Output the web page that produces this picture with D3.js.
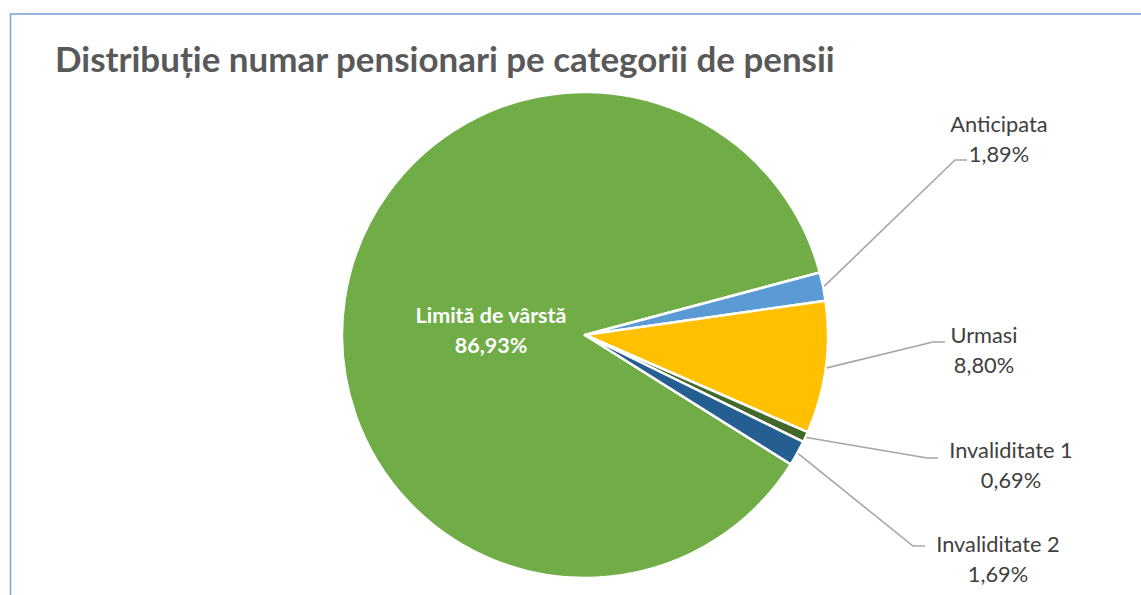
<!DOCTYPE html>
<html><head><meta charset="utf-8">
<script src="https://cdn.jsdelivr.net/npm/d3@7"></script>
<style>body{margin:0;background:#fff;}svg{display:block;}</style>
</head><body>
<svg id="c" width="1141" height="595"></svg>
<script>
const categories = ["Limită de vârstă", "Anticipata", "Urmasi", "Invaliditate 1", "Invaliditate 2"];
const values = [86.93, 1.89, 8.80, 0.69, 1.69];
const valueLabels = ["86,93%", "1,89%", "8,80%", "0,69%", "1,69%"];
const colors = ["#70AD47", "#5B9BD5", "#FFC000", "#43682B", "#255E91"];
const title = "Distribuție numar pensionari pe categorii de pensii";

// layout (label anchor positions, manually placed like the original)
const labelPos = [
  {x: 491, y: 323, inside: true},
  {x: 999, y: 132, elbow: [955, 160], end: [967, 160]},
  {x: 984, y: 343, elbow: [933, 342], end: [945, 342]},
  {x: 1011, y: 458, elbow: [927, 458], end: [938, 458]},
  {x: 998, y: 552, elbow: [913, 546], end: [925, 546]}
];

const svg = d3.select("#c");
const W = 1141, H = 595;
svg.append("rect").attr("x", 10.5).attr("y", 14).attr("width", W + 10).attr("height", H + 10)
  .attr("fill", "#fff").attr("stroke", "#7F9FD8").attr("stroke-width", 1.5);

const FONT = "Lato, 'Open Sans', sans-serif";
const t = svg.append("text").attr("x", 55).attr("y", 72)
  .attr("font-family", FONT).attr("font-weight", "bold")
  .attr("font-size", 30).attr("fill", "#595959").text(title);
const tw = t.node().getComputedTextLength();
t.attr("font-size", 30 * 780 / tw);

const cx = 585, cy = 335, R = 243;
const deg = Math.PI / 180;
const pie = d3.pie().sort(null).value(d => d)
  .startAngle(122.15 * deg).endAngle(482.15 * deg);
const arcs = pie(values);
const arc = d3.arc().innerRadius(0).outerRadius(R);

const g = svg.append("g").attr("transform", `translate(${cx},${cy})`);
g.selectAll("path").data(arcs).join("path")
  .attr("d", arc).attr("fill", (d, i) => colors[i])
  .attr("stroke", "#fff").attr("stroke-width", 2.5).attr("stroke-linejoin", "round");

// leader lines
arcs.forEach((a, i) => {
  const p = labelPos[i];
  if (p.inside) return;
  const m = (a.startAngle + a.endAngle) / 2;
  const sx = cx + (R + 1) * Math.sin(m), sy = cy - (R + 1) * Math.cos(m);
  svg.append("polyline")
    .attr("points", [[sx, sy], p.elbow, p.end].map(q => q.join(",")).join(" "))
    .attr("fill", "none").attr("stroke", "#A6A6A6").attr("stroke-width", 1.6);
});

// labels
arcs.forEach((a, i) => {
  const p = labelPos[i];
  const txt = svg.append("text").attr("text-anchor", "middle")
    .attr("font-family", FONT)
    .attr("font-size", p.inside ? 21.5 : 21.8)
    .attr("font-weight", p.inside ? "bold" : "normal")
    .attr("fill", p.inside ? "#fff" : "#404040");
  txt.append("tspan").attr("x", p.x).attr("y", p.y).text(categories[i]);
  txt.append("tspan").attr("x", p.x).attr("y", p.y + 29.5).text(valueLabels[i]);
});
</script>
</body></html>
